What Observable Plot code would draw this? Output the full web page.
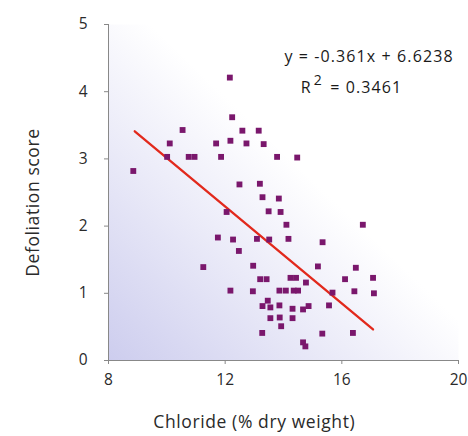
<!DOCTYPE html>
<html>
<head>
<meta charset="utf-8">
<script src="https://cdn.jsdelivr.net/npm/d3@7"></script>
<script src="https://cdn.jsdelivr.net/npm/@observablehq/plot@0.6"></script>
<style>
  html, body { margin: 0; padding: 0; background: #fff; }
  #chart { width: 468px; height: 436px; }
</style>
</head>
<body>
<div id="chart"></div>
<script>
// Chloride (% dry weight) for each sample
const chloride = [
  8.85, 10.10, 10.54, 10.01, 10.75, 10.95, 11.69, 11.86, 12.16, 12.24,
  12.18, 12.59, 13.15, 12.73, 13.32, 13.78, 14.47, 12.49, 13.19, 13.28,
  13.84, 12.05, 13.49, 13.90, 14.10, 16.72, 11.75, 12.27, 13.09, 13.51,
  14.17, 15.34, 12.47, 11.25, 12.96, 15.18, 16.48, 13.20, 13.42, 14.24,
  14.43, 14.77, 16.11, 17.07, 12.18, 12.95, 13.86, 14.08, 14.35, 14.50,
  15.68, 16.43, 17.10, 13.46, 13.28, 13.55, 13.86, 14.31, 14.67, 14.86,
  15.56, 13.55, 13.87, 14.31, 13.92, 13.27, 15.33, 16.38, 14.67, 14.75
];
// Defoliation score for each sample
const defoliation = [
  2.82, 3.23, 3.43, 3.03, 3.03, 3.03, 3.23, 3.03, 4.21, 3.62,
  3.27, 3.42, 3.42, 3.23, 3.22, 3.03, 3.02, 2.62, 2.63, 2.43,
  2.41, 2.21, 2.22, 2.21, 2.02, 2.02, 1.83, 1.80, 1.81, 1.80,
  1.81, 1.76, 1.63, 1.39, 1.41, 1.40, 1.38, 1.21, 1.21, 1.23,
  1.23, 1.16, 1.21, 1.23, 1.04, 1.03, 1.04, 1.04, 1.04, 1.04,
  1.01, 1.03, 1.00, 0.89, 0.81, 0.79, 0.82, 0.77, 0.76, 0.81,
  0.82, 0.63, 0.64, 0.63, 0.51, 0.41, 0.40, 0.41, 0.27, 0.21
];
// Trend line: y = slope * x + intercept, drawn over this x range
const slope = -0.361;
const intercept = 6.6238;
const trendX = [8.9, 17.07];
const equationText = "y = -0.361x + 6.6238";
const r2Value = "0.3461";
const xTicks = [8, 12, 16, 20];
const yTicks = [0, 1, 2, 3, 4, 5];
const xLabel = "Chloride (% dry weight)";
const yLabel = "Defoliation score";

const points = chloride.map((c, i) => ({x: c, y: defoliation[i]}));
const trend = trendX.map(x => ({x, y: slope * x + intercept}));

const font = "'Open Sans', 'Noto Sans', sans-serif";

const chart = Plot.plot({
  width: 468,
  height: 436,
  marginLeft: 108,
  marginRight: 10,
  marginTop: 24,
  marginBottom: 76,
  style: {fontFamily: font, fontSize: "15.5px", color: "#2a2a2a", background: "white"},
  x: {domain: [8, 20]},
  y: {domain: [0, 5]},
  marks: [
    Plot.frame({fill: "url(#bgGrad)", stroke: "none"}),
    Plot.axisX({ticks: xTicks, tickFormat: "d", tickSize: 4, tickPadding: 9, stroke: "#888",
      label: null, fontSize: 15.5}),
    Plot.axisY({ticks: yTicks, tickFormat: "d", tickSize: 4, tickPadding: 17, stroke: "#888",
      label: null, fontSize: 15.5}),
    Plot.text([xLabel], {x: () => 13.0, frameAnchor: "bottom", dy: 67, text: d => d,
      fontSize: 17.5, fill: "#2a2a2a", textAnchor: "middle"}),
    Plot.text([yLabel], {y: () => 2.35, frameAnchor: "left", dx: -75, rotate: -90, text: d => d,
      fontSize: 17.5, fill: "#2a2a2a", textAnchor: "middle"}),
    Plot.ruleX([8], {stroke: "#888"}),
    Plot.ruleY([0], {stroke: "#888"}),
    Plot.line(trend, {x: "x", y: "y", stroke: "#e2291c", strokeWidth: 2.3}),
    Plot.dot(points, {x: "x", y: "y", symbol: "square", r: 3.3, fill: "#7a176c", stroke: "none"})
  ]
});

// gradient background definition
const svgNS = "http://www.w3.org/2000/svg";
const defs = document.createElementNS(svgNS, "defs");
defs.innerHTML = `<linearGradient id="bgGrad" x1="0" y1="1" x2="0.8" y2="0.2">
  <stop offset="0" stop-color="#cdcdee"/>
  <stop offset="0.4" stop-color="#eaeaf8"/>
  <stop offset="0.7" stop-color="#ffffff"/>
</linearGradient>`;
chart.insertBefore(defs, chart.firstChild);

// letter spacing for axis titles to match the wider reference typeface
chart.querySelectorAll("text").forEach(t => {
  if (t.textContent === xLabel || t.textContent === yLabel) t.setAttribute("letter-spacing", "0.6");
});

// equation annotation, placed via the plot's own scales
const sx = chart.scale("x"), sy = chart.scale("y");
const g = document.createElementNS(svgNS, "g");
g.setAttribute("font-family", font);
g.setAttribute("font-size", "16");
g.setAttribute("letter-spacing", "1.1");
g.setAttribute("fill", "#1a1a1a");
const t1 = document.createElementNS(svgNS, "text");
t1.setAttribute("x", sx.apply(16.95));
t1.setAttribute("y", sy.apply(4.52));
t1.setAttribute("text-anchor", "middle");
t1.setAttribute("dy", "0.35em");
t1.textContent = equationText;
g.appendChild(t1);
const t2 = document.createElementNS(svgNS, "text");
t2.setAttribute("x", sx.apply(16.35));
t2.setAttribute("y", sy.apply(4.06));
t2.setAttribute("text-anchor", "middle");
t2.setAttribute("dy", "0.35em");
t2.innerHTML = `R<tspan dx="2" dy="-8" font-size="14">2</tspan><tspan dx="2" dy="8"> = ${r2Value}</tspan>`;
g.appendChild(t2);
chart.appendChild(g);

document.getElementById("chart").appendChild(chart);
</script>
</body>
</html>
